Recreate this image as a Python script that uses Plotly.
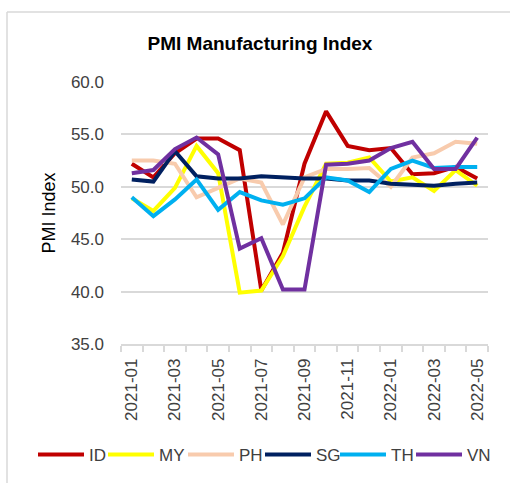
import plotly.graph_objects as go

months = ["2021-01", "2021-02", "2021-03", "2021-04", "2021-05", "2021-06",
          "2021-07", "2021-08", "2021-09", "2021-10", "2021-11", "2021-12",
          "2022-01", "2022-02", "2022-03", "2022-04", "2022-05"]

ID = [52.2, 50.9, 53.2, 54.6, 54.6, 53.5, 40.1, 43.7, 52.2, 57.2, 53.9, 53.5, 53.7, 51.2, 51.3, 51.9, 50.8]
MY = [48.9, 47.7, 49.9, 53.9, 51.3, 39.9, 40.1, 43.4, 48.1, 52.2, 52.3, 52.8, 50.5, 50.9, 49.6, 51.6, 50.1]
PH = [52.5, 52.5, 52.2, 49.0, 49.9, 50.8, 50.4, 46.4, 50.9, 51.7, 51.7, 51.8, 50.0, 52.8, 53.2, 54.3, 54.1]
SG = [50.7, 50.5, 53.4, 51.0, 50.8, 50.8, 51.0, 50.9, 50.8, 50.8, 50.6, 50.6, 50.3, 50.2, 50.1, 50.3, 50.4]
TH = [49.0, 47.2, 48.8, 50.7, 47.8, 49.5, 48.7, 48.3, 48.9, 50.9, 50.6, 49.5, 51.7, 52.5, 51.8, 51.9, 51.9]
VN = [51.3, 51.6, 53.6, 54.7, 53.1, 44.1, 45.1, 40.2, 40.2, 52.1, 52.2, 52.5, 53.7, 54.3, 51.7, 51.7, 54.7]

series = [("ID", ID, "#C00000"), ("MY", MY, "#FFFF00"), ("PH", PH, "#F8CBAD"),
          ("SG", SG, "#002060"), ("TH", TH, "#00B0F0"), ("VN", VN, "#7030A0")]

tick_text = [m if i % 2 == 0 else "" for i, m in enumerate(months)]

FONT = "Liberation Sans, Noto Sans, sans-serif"

W, H = 510, 483
L, R, T, B = 121, 22, 82, 139
pw, ph = W - L - R, H - T - B


def px_x(px):
    return (px - L) / pw


def px_y(py):
    return (H - B - py) / ph


# left pixel of each legend entry (one legend box per entry, laid out in a row)
legend_left = [33, 103, 183, 260, 335, 411]

fig = go.Figure()
legend_layouts = {}
for i, (name, vals, color) in enumerate(series):
    key = "legend" if i == 0 else f"legend{i + 1}"
    fig.add_trace(go.Scatter(x=months, y=vals, name=name, mode="lines",
                             line=dict(color=color, width=4), legend=key))
    legend_layouts[key] = dict(
        orientation="h", x=px_x(legend_left[i]), xanchor="left",
        y=px_y(455), yanchor="middle", font=dict(size=17, color="#404040", family=FONT),
        itemwidth=46, bgcolor="rgba(0,0,0,0)")

fig.update_layout(
    width=W, height=H,
    margin=dict(l=L, r=R, t=T, b=B, pad=0, autoexpand=False),
    paper_bgcolor="white", plot_bgcolor="white",
    font=dict(family=FONT, size=17, color="#404040"),
    title=dict(text="<b>PMI Manufacturing Index</b>", x=260 / W, xanchor="center",
               y=1 - 43 / H, yanchor="middle", xref="container", yref="container",
               font=dict(size=19, color="#000000", family=FONT)),
    showlegend=True,
    xaxis=dict(type="category", tickvals=months, ticktext=tick_text, tickangle=-90,
               showgrid=False, showline=True, linecolor="#D9D9D9", linewidth=1.5,
               ticks="outside", tickson="boundaries", ticklen=6, tickcolor="#D9D9D9",
               tickwidth=1.5, tickfont=dict(size=17, color="#404040"), ticklabelstandoff=6,
               range=[-0.5, len(months) - 0.5], zeroline=False, automargin=False),
    yaxis=dict(range=[35, 60], dtick=5, tick0=35, tickformat=".1f", showgrid=True,
               gridcolor="#D9D9D9", gridwidth=1.5, showline=False, zeroline=False,
               ticks="", tickfont=dict(size=17, color="#404040"), ticklabelstandoff=16,
               automargin=False,
               title=dict(text="PMI Index", font=dict(size=18, color="#000000"), standoff=10)),
    shapes=[
        dict(type="line", xref="paper", yref="paper", x0=px_x(7), x1=px_x(510),
             y0=px_y(12), y1=px_y(12), line=dict(color="#D9D9D9", width=1.5)),
        dict(type="line", xref="paper", yref="paper", x0=px_x(7), x1=px_x(7),
             y0=px_y(12), y1=px_y(483), line=dict(color="#D9D9D9", width=1.5)),
    ],
    **legend_layouts,
)

fig.write_html("out.html", config={"displayModeBar": False},
               post_script="document.body.style.margin='0';")
